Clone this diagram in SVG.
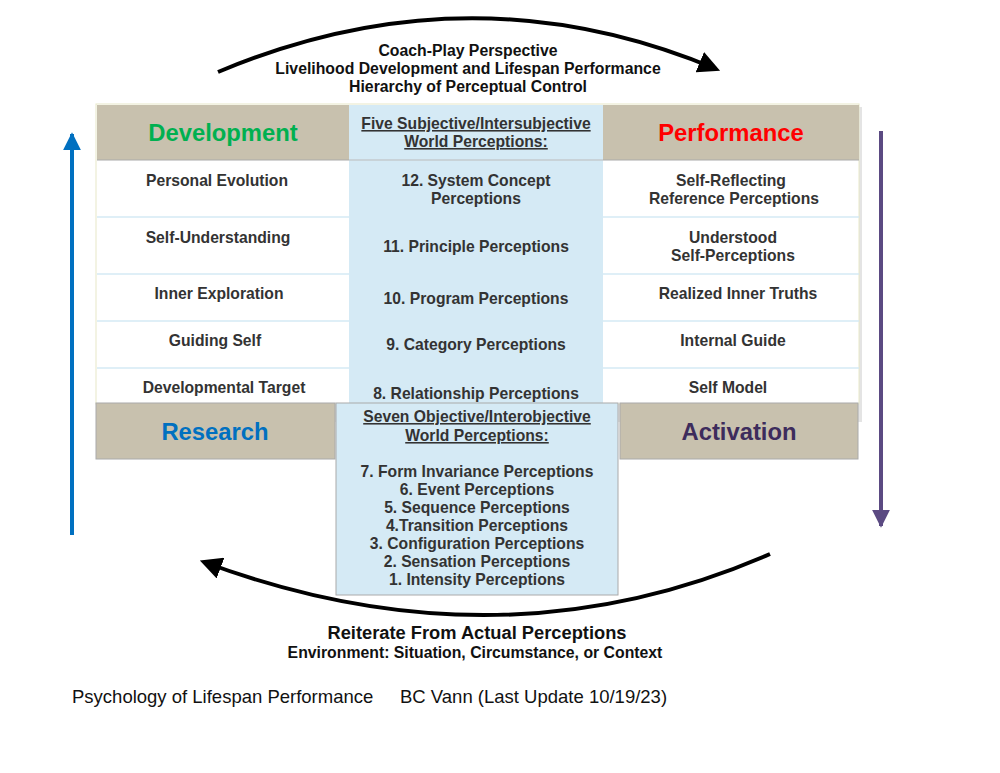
<svg xmlns="http://www.w3.org/2000/svg" width="1000" height="773" viewBox="0 0 1000 773">
<style>
text{font-family:"Liberation Sans",Arial,sans-serif;font-weight:bold;text-anchor:middle;fill:#333333}
.row{font-size:15.7px}
.hd{font-size:23.8px}
.title{font-size:15.8px;fill:#111}
.u{text-decoration:underline}
.tan{fill:#C8C1AE}
.blue{fill:#D5EAF5}
.div{stroke:#D5EAF5;stroke-width:1.5}
</style>
<defs>
<marker id="ahK" viewBox="0 0 10 10" refX="8" refY="5" markerWidth="5.5" markerHeight="5.5" orient="auto" markerUnits="strokeWidth"><path d="M0,0 L10,5 L0,10 z" fill="#000"/></marker>
<marker id="ahB" viewBox="0 0 10 10" refX="9" refY="5" markerWidth="4.5" markerHeight="4.5" orient="auto" markerUnits="strokeWidth"><path d="M0,0 L10,5 L0,10 z" fill="#0070C0"/></marker>
<marker id="ahP" viewBox="0 0 10 10" refX="9" refY="5" markerWidth="4.5" markerHeight="4.5" orient="auto" markerUnits="strokeWidth"><path d="M0,0 L10,5 L0,10 z" fill="#5B4A82"/></marker>
</defs>
<rect width="1000" height="773" fill="#fff"/>

<g id="table">
<rect x="99" y="107" width="763" height="315" fill="#e4e4e4"/>
<rect x="96" y="104" width="763" height="300" fill="#fff" stroke="#E8E8C8" stroke-width="1"/>
<rect class="tan" x="97" y="105" width="252" height="55"/>
<rect class="tan" x="603" y="105" width="256" height="55"/>
<line x1="97" y1="160" x2="349" y2="160" stroke="#aaa" stroke-width="1"/>
<line x1="603" y1="160" x2="859" y2="160" stroke="#aaa" stroke-width="1"/>
<line class="div" x1="97" y1="217" x2="349" y2="217"/>
<line class="div" x1="97" y1="274" x2="349" y2="274"/>
<line class="div" x1="97" y1="321" x2="349" y2="321"/>
<line class="div" x1="97" y1="368" x2="349" y2="368"/>
<line class="div" x1="603" y1="217" x2="859" y2="217"/>
<line class="div" x1="603" y1="274" x2="859" y2="274"/>
<line class="div" x1="603" y1="321" x2="859" y2="321"/>
<line class="div" x1="603" y1="368" x2="859" y2="368"/>
<rect class="blue" x="349" y="105" width="254" height="300"/>
<line x1="349" y1="160" x2="603" y2="160" stroke="#bbb" stroke-width="1"/>
</g>

<g id="development"><text class="hd" x="223" y="141" style="fill:#00B050">Development</text></g>
<g id="performance"><text class="hd" x="731" y="141" style="fill:#FF0000">Performance</text></g>

<g id="subjective-header">
<text class="row u" x="476" y="129">Five Subjective/Intersubjective</text>
<text class="row u" x="476" y="147">World Perceptions:</text>
</g>

<g id="left-col">
<text class="row" x="217" y="186">Personal Evolution</text>
<text class="row" x="218" y="243">Self-Understanding</text>
<text class="row" x="219" y="299">Inner Exploration</text>
<text class="row" x="215" y="346">Guiding Self</text>
<text class="row" x="224" y="393">Developmental Target</text>
</g>

<g id="mid-col">
<text class="row" x="476" y="186">12. System Concept</text>
<text class="row" x="476" y="204">Perceptions</text>
<text class="row" x="476" y="252">11. Principle Perceptions</text>
<text class="row" x="476" y="304">10. Program Perceptions</text>
<text class="row" x="476" y="350">9. Category Perceptions</text>
<text class="row" x="476" y="399">8. Relationship Perceptions</text>
</g>

<g id="right-col">
<text class="row" x="731" y="186">Self-Reflecting</text>
<text class="row" x="734" y="204">Reference Perceptions</text>
<text class="row" x="733" y="243">Understood</text>
<text class="row" x="733" y="261">Self-Perceptions</text>
<text class="row" x="738" y="299">Realized Inner Truths</text>
<text class="row" x="733" y="346">Internal Guide</text>
<text class="row" x="728" y="393">Self Model</text>
</g>

<g id="research">
<rect class="tan" x="96" y="403" width="239" height="56" stroke="#aaa" stroke-width="1"/>
<text class="hd" x="215" y="440" style="fill:#0070C0">Research</text>
</g>
<g id="activation">
<rect class="tan" x="620" y="403" width="238" height="56" stroke="#aaa" stroke-width="1"/>
<text class="hd" x="739" y="440" style="fill:#3D2C5C">Activation</text>
</g>

<g id="objective">
<rect x="336" y="403" width="282" height="192" fill="#D5EAF5" stroke="#aaa" stroke-width="1"/>
<text class="row u" x="477" y="422">Seven Objective/Interobjective </text>
<text class="row u" x="477" y="441">World Perceptions:</text>
<text class="row" x="477" y="477">7. Form Invariance Perceptions</text>
<text class="row" x="477" y="495">6. Event Perceptions</text>
<text class="row" x="477" y="513">5. Sequence Perceptions</text>
<text class="row" x="477" y="531">4.Transition Perceptions</text>
<text class="row" x="477" y="549">3. Configuration Perceptions</text>
<text class="row" x="477" y="567">2. Sensation Perceptions</text>
<text class="row" x="477" y="585">1. Intensity Perceptions</text>
</g>

<g id="top-title">
<text class="title" x="468" y="56">Coach-Play Perspective</text>
<text class="title" x="468" y="74">Livelihood Development and Lifespan Performance</text>
<text class="title" x="468" y="92">Hierarchy of Perceptual Control</text>
</g>

<g id="bottom-title">
<text x="477" y="639" style="font-size:18.3px;fill:#111">Reiterate From Actual Perceptions</text>
<text class="title" x="475" y="658">Environment: Situation, Circumstance, or Context</text>
</g>

<g id="footer">
<text x="72" y="703" style="font-weight:normal;text-anchor:start;font-size:18.5px;fill:#111">Psychology of Lifespan Performance</text>
<text x="400" y="703" style="font-weight:normal;text-anchor:start;font-size:18.5px;fill:#111">BC Vann (Last Update 10/19/23)</text>
</g>

<g id="connectors" fill="none">
<path d="M218,72 Q470,-34 716,69" stroke="#000" stroke-width="4" marker-end="url(#ahK)"/>
<path d="M770,554 Q500,672 204,562" stroke="#000" stroke-width="4" marker-end="url(#ahK)"/>
<line x1="72" y1="535" x2="72" y2="134" stroke="#0070C0" stroke-width="4" marker-end="url(#ahB)"/>
<line x1="881" y1="131" x2="881" y2="526" stroke="#5B4A82" stroke-width="4" marker-end="url(#ahP)"/>
</g>
</svg>
